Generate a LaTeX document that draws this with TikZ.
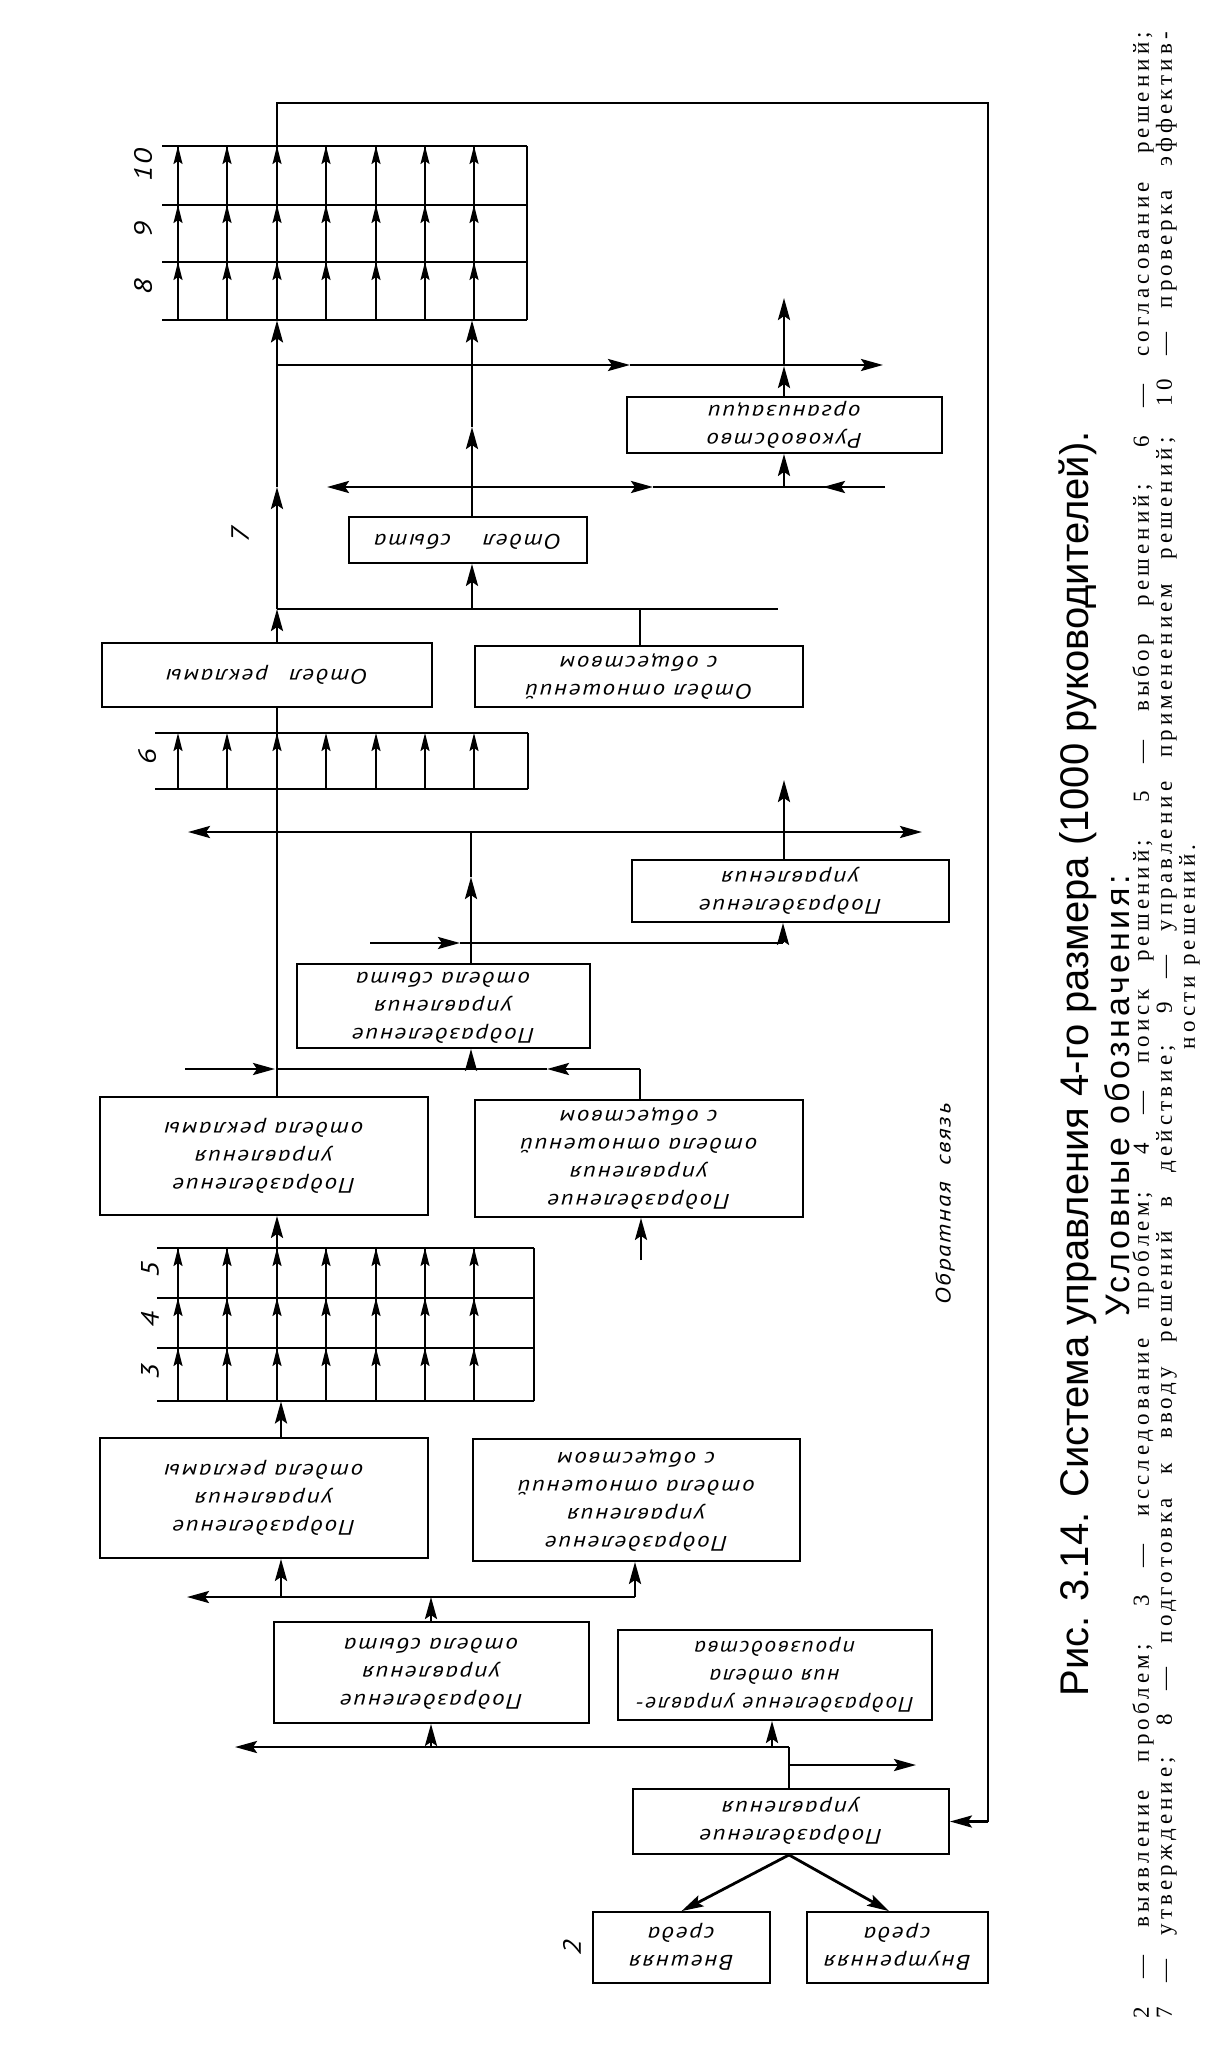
\documentclass[tikz,border=0pt]{standalone}
\usepackage{fontspec}
\usepackage{graphicx}
\setmainfont{Liberation Serif}
\newfontfamily\boxfont[LetterSpace=8,FakeStretch=1.2]{PT Sans}
\newfontfamily\capfont{Liberation Sans}
\newfontfamily\spacedfont[LetterSpace=10]{Liberation Sans}
\newfontfamily\legfont[LetterSpace=18]{Liberation Serif}
\usetikzlibrary{arrows.meta}
\newcommand{\flip}[1]{\rotatebox[origin=c]{180}{\begin{tabular}{@{}c@{}}#1\end{tabular}}}

\begin{document}
\begin{tikzpicture}[x=0.5pt,y=-0.5pt,
  box/.style={draw, line width=0.9pt, inner sep=0pt, font=\boxfont\itshape\fontsize{10.5}{14}\selectfont},
  flow/.style={line width=1.4pt},
  bar/.style={line width=0.9pt},
  head/.style={-{Stealth[length=11pt,width=6pt,inset=2pt]}},
  small/.style={-{Stealth[length=9pt,width=4.5pt,inset=1.5pt]}},
  num/.style={rotate=90, font=\boxfont\itshape\fontsize{12.5}{12}\selectfont}]
\useasboundingbox (0,0) rectangle (1230,2048);

% Boxes
\node[box, minimum width=157.5pt, minimum height=28pt] (ruk) at (784.5,425) {\flip{Руководство\\организации}};
\node[box, minimum width=119pt, minimum height=23pt] (sbyt) at (468,540) {\flip{Отдел\hspace{1.5em}сбыта}};
\node[box, minimum width=165pt, minimum height=32pt] (rekl) at (267,675) {\flip{Отдел\hspace{1em}рекламы}};
\node[box, minimum width=164pt, minimum height=30.5pt] (otn) at (639,676.5) {\flip{Отдел отношений\\с обществом}};
\node[box, minimum width=158.5pt, minimum height=31pt] (upr2) at (790.5,891) {\flip{Подразделение\\управления}};
\node[box, minimum width=146.5pt, minimum height=41pt] (usb) at (443.5,1006) {\flip{Подразделение\\управления\\отдела сбыта}};
\node[box, minimum width=164pt, minimum height=59pt] (urk1) at (264,1156) {\flip{Подразделение\\управления\\отдела рекламы}};
\node[box, minimum width=164pt, minimum height=58.5pt] (uot1) at (639,1158.5) {\flip{Подразделение\\управления\\отдела отношений\\с обществом}};
\node[box, minimum width=164pt, minimum height=60pt] (urk2) at (264,1498) {\flip{Подразделение\\управления\\отдела рекламы}};
\node[box, minimum width=163.5pt, minimum height=61pt] (uot2) at (636.5,1500) {\flip{Подразделение\\управления\\отдела отношений\\с обществом}};
\node[box, minimum width=157.5pt, minimum height=50.5pt] (usb2) at (431.5,1672.5) {\flip{Подразделение\\управления\\отдела сбыта}};
\node[box, minimum width=157pt, minimum height=45pt] (proizv) at (775,1675) {\scalebox{0.94}[1]{\flip{Подразделение управле-\\ния отдела\\производства}}};
\node[box, minimum width=158pt, minimum height=32.5pt] (upr) at (791,1821.5) {\flip{Подразделение\\управления}};
\node[box, minimum width=88.5pt, minimum height=35.5pt] (vnesh) at (681.5,1947.5) {\flip{Внешняя\\среда}};
\node[box, minimum width=90.5pt, minimum height=35.5pt] (vnutr) at (897.5,1947.5) {\flip{Внутренняя\\среда}};

% Grids of stages
\node[minimum width=182.5pt, minimum height=87pt, inner sep=0pt] (g810) at (344.5,233) {};
\node[minimum width=186.5pt, minimum height=28pt, inner sep=0pt] (g6) at (341.5,761) {};
\node[minimum width=188.5pt, minimum height=76.5pt, inner sep=0pt] (g345) at (345.5,1324.5) {};
\foreach \r in {146,205,262,320} \draw[bar] (162,\r) -- (527,\r);
\draw[bar] (527,146) -- (527,320);
\foreach \r in {733,789} \draw[bar] (155,\r) -- (528,\r);
\draw[bar] (528,733) -- (528,789);
\foreach \r in {1248,1298,1348,1401} \draw[bar] (157,\r) -- (534,\r);
\draw[bar] (534,1248) -- (534,1401);
\foreach \c in {178,227,277,326,376,425,474} {
  \draw[bar] (\c,320) -- (\c,146);
  \foreach \t in {146,205,262} \draw[bar, small] (\c,\t+22) -- (\c,\t);
  \draw[bar, small] (\c,789) -- (\c,733);
  \draw[bar] (\c,1401) -- (\c,1248);
  \foreach \t in {1248,1298,1348} \draw[bar, small] (\c,\t+22) -- (\c,\t);
}

% Stage numbers
\node[num] (n10) at (143,165) {10};
\node[num] (n9) at (143,230) {9};
\node[num] (n8) at (143,287) {8};
\node[num] (n7) at (240,535) {7};
\node[num] (n6) at (147,757) {6};
\node[num] (n5) at (150,1270) {5};
\node[num] (n4) at (150,1320) {4};
\node[num] (n3) at (150,1372) {3};
\node[num] (n2) at (572,1948) {2};

% Junctions
\coordinate (fbL) at (277,103);
\coordinate (fbR) at (988,103);
\coordinate (a365) at (277,365);
\coordinate (a487) at (277,487);
\coordinate (a609) at (277,609);
\coordinate (a832) at (277,832);
\coordinate (a1069) at (277,1069);
\coordinate (s365) at (472,365);
\coordinate (s487) at (472,487);
\coordinate (s609) at (472,609);
\coordinate (r487) at (784,487);
\coordinate (r365) at (784,366);
\coordinate (o609) at (640,609);
\coordinate (u832) at (471,832);
\coordinate (u1069) at (471,1069);
\coordinate (p943) at (783,943);
\coordinate (o1069) at (640,1069);
\coordinate (m1597) at (635,1597);
\coordinate (k1597) at (281,1597);
\coordinate (c1597) at (431,1597);
\coordinate (b1747) at (789,1747);
\coordinate (c1747) at (431,1747);
\coordinate (d1747) at (772,1747);
\coordinate (b1765) at (789,1765);

% Feedback loop
\draw[flow] (fbL |- g810.north) -- (fbL) -- (fbR) -- (fbR |- upr.east);
\draw[flow, head] (fbR |- upr.east) -- (upr.east);
\node[rotate=90, font=\boxfont\itshape\fontsize{10.5}{12}\selectfont] (fb) at (945,1204) {Обратная\hspace{0.8em}связь};

% Top level
\draw[flow, head] (a609 |- rekl.north) -- (a609);
\draw[flow, head] (a609) -- (a487);
\draw[flow] (a487) -- (a365);
\draw[flow, head] (a365) -- (a365 |- g810.south);
\draw[flow, head] (a365) -- (630,365);
\draw[flow, head] (630,365) -- (883,365);
\draw[flow, head] (s609 |- sbyt.north) -- (472,427);
\draw[flow] (472,427) -- (s365);
\draw[flow, head] (s365) -- (s365 |- g810.south);
\draw[flow, head] (s487) -- (327,487);
\draw[flow, head] (s487) -- (653,487);
\draw[flow] (653,487) -- (885,487);
\draw[flow, head] (885,487) -- (823,487);
\draw[flow, head] (r487) -- (r487 |- ruk.south);
\draw[flow, head] (r487 |- ruk.north) -- (r365);
\draw[flow, head] (r365) -- (784,298);
\draw[flow] (a609) -- (778,609);
\draw[flow, head] (s609) -- (s609 |- sbyt.south);
\draw[flow] (o609 |- otn.north) -- (o609);

% Middle level
\draw[flow] (a609 |- rekl.south) -- (a609 |- urk1.north);
\draw[flow, head] (a832) -- (188,832);
\draw[flow, head] (a832) -- (922,832);
\draw[flow, head] (u832 |- usb.north) -- (471,877);
\draw[flow] (471,877) -- (u832);
\draw[flow, head] (r487 |- upr2.north) -- (784,780);
\draw[flow, head] (370,943) -- (460,943);
\draw[flow] (460,943) -- (p943);
\draw[flow, head] (p943) -- (p943 |- upr2.south);
\draw[flow, head] (185,1069) -- (275,1069);
\draw[flow, head] (o1069) -- (547,1069);
\draw[flow] (547,1069) -- (a1069);
\draw[flow, head] (u1069) -- (u1069 |- usb.south);
\draw[flow] (o1069) -- (o1069 |- uot1.north);
\draw[flow, head] (a609 |- g345.north) -- (a609 |- urk1.south);
\draw[flow, head] (641,1260) -- (641,0 |- uot1.south);

% Lower level
\draw[flow, head] (k1597 |- urk2.north) -- (k1597 |- g345.south);
\draw[flow, head] (m1597) -- (187,1597);
\draw[flow, head] (k1597) -- (k1597 |- urk2.south);
\draw[flow, head] (m1597) -- (m1597 |- uot2.south);
\draw[flow, head] (c1597 |- usb2.north) -- (c1597);
\draw[flow, head] (b1747) -- (235,1747);
\draw[flow, head] (c1747) -- (c1747 |- usb2.south);
\draw[flow, head] (d1747) -- (d1747 |- proizv.south);
\draw[flow] (b1747) -- (b1747 |- upr.north);
\draw[flow, head] (b1765) -- (916,1765);
\draw[flow, head] (b1747 |- upr.south) -- (vnesh.north);
\draw[flow, head] (b1747 |- upr.south) -- (889,0 |- vnutr.north);

% Caption and legend
\node[rotate=90, font=\capfont\fontsize{20}{22}\selectfont] (cap) at (1078,1064) {Рис. 3.14. Система управления 4-го размера (1000 руководителей).};
\node[rotate=90, font=\spacedfont\fontsize{17}{20}\selectfont] (leg) at (1117,1096) {Условные обозначения:};
\node[rotate=90, inner sep=0pt, align=center, font=\legfont\fontsize{11.5}{11.5}\selectfont] (legtext) at (1166,1025)
  {\makebox[993pt][s]{2 — выявление проблем; 3 — исследование проблем; 4 — поиск решений; 5 — выбор решений; 6 — согласование решений;}\\
   \makebox[993pt][s]{7 — утверждение; 8 — подготовка к вводу решений в действие; 9 — управление применением решений; 10 — проверка эффектив-}\\
   \makebox[993pt][c]{\hspace{78pt}ности решений.}};
\end{tikzpicture}
\end{document}
